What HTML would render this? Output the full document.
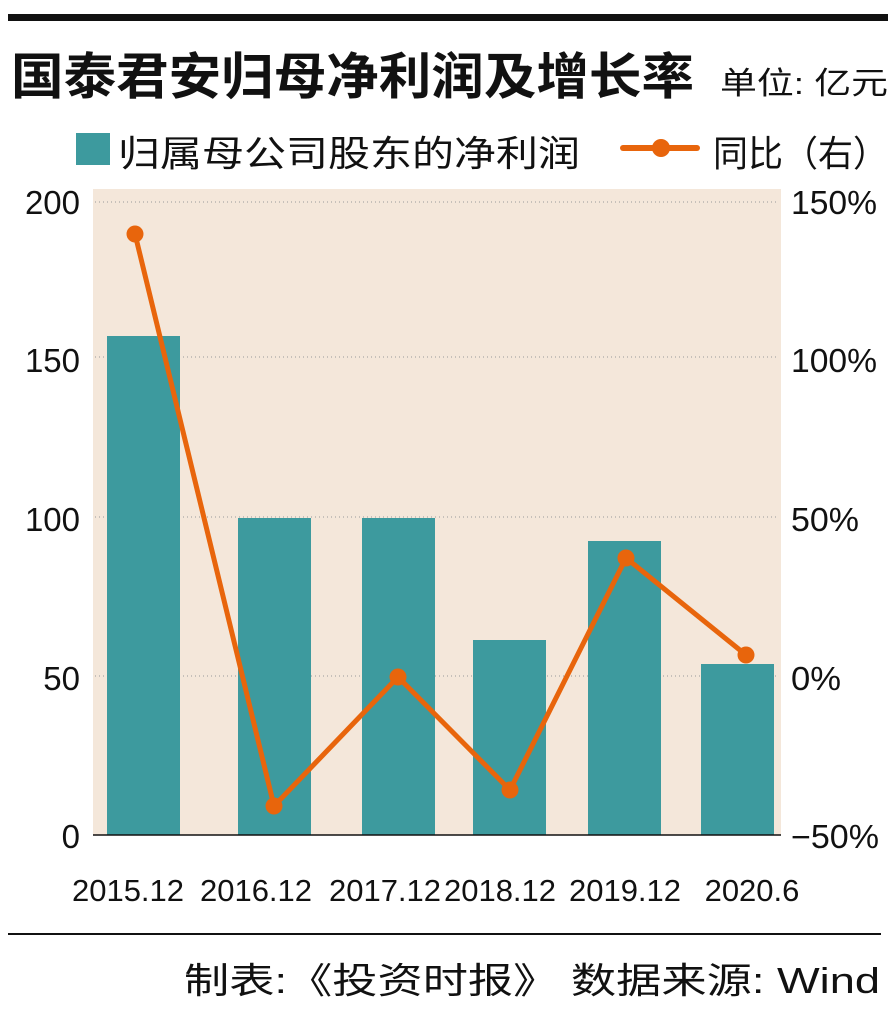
<!DOCTYPE html>
<html><head><meta charset="utf-8"><style>
html,body{margin:0;padding:0;background:#fff;}
svg{display:block;}
text{font-family:"Liberation Sans","Noto Sans CJK SC",sans-serif;}
</style></head><body>
<svg width="896" height="1012" viewBox="0 0 896 1012" xmlns="http://www.w3.org/2000/svg">
<rect x="8" y="14" width="880" height="7" fill="#111"/>
<text x="11" y="94" font-size="50" font-weight="bold" fill="#111" textLength="683" lengthAdjust="spacingAndGlyphs">国泰君安归母净利润及增长率</text>
<text x="720" y="94" font-size="31" fill="#111" textLength="168" lengthAdjust="spacingAndGlyphs">单位: 亿元</text>
<rect x="76" y="133" width="34" height="32" fill="#3d9a9e"/>
<text x="118" y="166" font-size="36" fill="#111" textLength="462" lengthAdjust="spacingAndGlyphs">归属母公司股东的净利润</text>
<line x1="623" y1="148" x2="697" y2="148" stroke="#e8650c" stroke-width="6" stroke-linecap="round"/>
<circle cx="661" cy="148" r="9" fill="#e8650c"/>
<text x="713" y="166" font-size="36" fill="#111" textLength="175" lengthAdjust="spacingAndGlyphs">同比（右）</text>
<rect x="93" y="189" width="688" height="646" fill="#f4e7da"/>
<g stroke="#999" stroke-width="1" stroke-dasharray="1,3">
<line x1="95" y1="202" x2="776" y2="202"/>
<line x1="95" y1="357" x2="776" y2="357"/>
<line x1="95" y1="517" x2="776" y2="517"/>
<line x1="95" y1="676" x2="776" y2="676"/>
</g>
<g fill="#3d9a9e">
<rect x="107" y="336" width="73" height="499"/>
<rect x="238" y="518" width="73" height="317"/>
<rect x="362" y="518" width="73" height="317"/>
<rect x="473" y="640" width="73" height="195"/>
<rect x="588" y="541" width="73" height="294"/>
<rect x="701" y="664" width="73" height="171"/>
</g>
<line x1="93" y1="835" x2="781" y2="835" stroke="#111" stroke-width="1.5"/>
<polyline points="135,234 274,806 398,677 510,790 626,558 746,655" fill="none" stroke="#e8650c" stroke-width="5" stroke-linejoin="round"/>
<g fill="#e8650c">
<circle cx="135" cy="234" r="8.5"/><circle cx="274" cy="806" r="8.5"/><circle cx="398" cy="677" r="8.5"/>
<circle cx="510" cy="790" r="8.5"/><circle cx="626" cy="558" r="8.5"/><circle cx="746" cy="655" r="8.5"/>
</g>
<g font-size="33" fill="#111" text-anchor="end">
<text x="80" y="214">200</text><text x="80" y="372">150</text><text x="80" y="531">100</text>
<text x="80" y="690">50</text><text x="80" y="848">0</text>
</g>
<g font-size="33" fill="#111">
<text x="791" y="214" textLength="86" lengthAdjust="spacingAndGlyphs">150%</text>
<text x="791" y="372" textLength="86" lengthAdjust="spacingAndGlyphs">100%</text>
<text x="791" y="531" textLength="68" lengthAdjust="spacingAndGlyphs">50%</text>
<text x="791" y="690" textLength="50" lengthAdjust="spacingAndGlyphs">0%</text>
<text x="791" y="848" textLength="88" lengthAdjust="spacingAndGlyphs">−50%</text>
</g>
<g font-size="31" fill="#111" text-anchor="middle">
<text x="128" y="901">2015.12</text><text x="256" y="901">2016.12</text><text x="385" y="901">2017.12</text>
<text x="500" y="901">2018.12</text><text x="625" y="901">2019.12</text><text x="752" y="901">2020.6</text>
</g>
<rect x="8" y="933" width="873" height="2" fill="#111"/>
<text x="184" y="993" font-size="36" fill="#111" textLength="696" lengthAdjust="spacingAndGlyphs">制表:《投资时报》 数据来源: Wind</text>
</svg>
</body></html>
